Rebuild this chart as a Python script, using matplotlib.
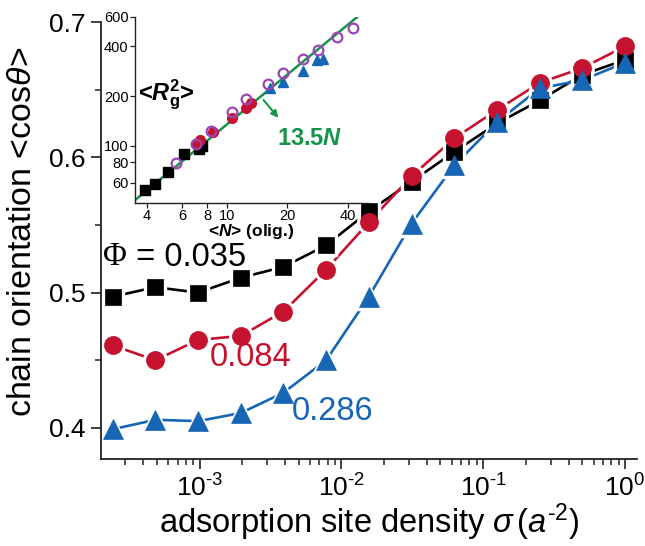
import numpy as np
import matplotlib
matplotlib.use("Agg")
import matplotlib.pyplot as plt
from matplotlib.ticker import (FixedLocator, FixedFormatter, LogLocator, NullFormatter,
                               MultipleLocator, FuncFormatter, FormatStrFormatter)

plt.rcParams['font.family'] = ['Liberation Sans', 'DejaVu Sans']
plt.rcParams['mathtext.fontset'] = 'custom'
plt.rcParams['mathtext.rm'] = 'Liberation Sans'
plt.rcParams['mathtext.it'] = 'Liberation Sans:italic'
plt.rcParams['mathtext.bf'] = 'Liberation Sans:bold'
plt.rcParams['mathtext.bfit'] = 'Liberation Sans:italic:bold'
plt.rcParams['axes.unicode_minus'] = False

# ---- main panel data: orientation vs adsorption site density ----
sigma = 2.0 ** np.arange(-12, 1)
cos_phi_035 = [0.497, 0.504, 0.500, 0.511, 0.519, 0.535, 0.560, 0.582, 0.604,
               0.625, 0.642, 0.661, 0.672]
cos_phi_084 = [0.461, 0.450, 0.465, 0.468, 0.486, 0.517, 0.552, 0.586, 0.614,
               0.635, 0.655, 0.666, 0.682]
cos_phi_286 = [0.399, 0.406, 0.405, 0.411, 0.426, 0.450, 0.497, 0.551, 0.594,
               0.626, 0.651, 0.657, 0.670]
phi_labels = ["0.035", "0.084", "0.286"]

# ---- inset data: <Rg^2> vs <N> ----
n_sq = [3.9, 4.4, 5.07, 6.13, 7.3, 7.5]
rg_sq = [54, 59, 70, 89, 96, 100]
n_ci = [7.0, 7.35, 8.55, 10.55, 12.4, 13.2]
rg_ci = [103, 108, 122, 147, 170, 182]
n_tri = [16.4, 19.1, 24.0, 27.9, 29.9]
rg_tri = [225, 244, 284, 329, 333]
n_open = [5.57, 7.0, 8.32, 10.55, 12.4, 16.05, 18.9, 24.0, 28.4, 35.4, 42.6]
rg_open = [79, 103, 123, 161, 191, 238, 277, 337, 379, 455, 512]
fit_slope = 13.5
inset_xticks = [4, 6, 8, 10, 20, 40]
inset_yticks = [60, 80, 100, 200, 400, 600]

BLACK = '#000000'
RED = '#c4122f'
BLUE = '#1766b5'
PURPLE = '#9b45b2'
GREEN = '#17944a'
SPINE = '#222222'
HYPHEN = '\u2010'

fig = plt.figure(figsize=(6.45, 5.46), dpi=100)
ax = fig.add_axes([0.1566, 0.1593, 0.831, 0.8004])

series = [
    (cos_phi_035, BLACK, 's', 12.0),
    (cos_phi_084, RED, 'o', 13.0),
    (cos_phi_286, BLUE, '^', 15.0),
]
for vals, col, mk, ms in series:
    ax.plot(sigma, vals, color=col, lw=1.9, zorder=2, solid_capstyle='butt')
for vals, col, mk, ms in series:
    ax.plot(sigma, vals, ls='none', marker=mk, ms=ms + 4, mfc='white', mec='white', zorder=3)
for vals, col, mk, ms in series:
    ax.plot(sigma, vals, ls='none', marker=mk, ms=ms, mfc=col, mec=col, mew=0.5, zorder=4)

ax.set_xscale('log')
ax.set_xlim(2.02e-4, 1.215)
ax.set_ylim(0.377, 0.7)
ax.yaxis.set_major_locator(MultipleLocator(0.1))
ax.yaxis.set_minor_locator(MultipleLocator(0.05))
ax.yaxis.set_major_formatter(FormatStrFormatter('%.1f'))
ax.xaxis.set_major_locator(LogLocator(base=10, numticks=10))
ax.xaxis.set_minor_locator(LogLocator(base=10, subs=np.arange(2, 10), numticks=20))
ax.xaxis.set_minor_formatter(NullFormatter())
ax.xaxis.set_major_formatter(FuncFormatter(
    lambda v, pos: r'$10^{\mathrm{%s}}$' % ('%d' % round(np.log10(v))).replace('-', HYPHEN)))

for side in ('top', 'right'):
    ax.spines[side].set_visible(False)
for side in ('left', 'bottom'):
    ax.spines[side].set_linewidth(1.3)
    ax.spines[side].set_color(SPINE)
    ax.spines[side].set_zorder(5)
ax.tick_params(which='major', direction='out', length=7, width=1.2, color=SPINE,
               labelsize=19, pad=4)
ax.tick_params(which='minor', direction='out', length=4, width=1.1, color=SPINE)

ax.set_xlabel(r'adsorption site density $\sigma\,(a^{\mathrm{%s2}})$' % HYPHEN,
              fontsize=23.5, labelpad=0)
ax.set_ylabel(r'chain orientation <cos$\theta$>', fontsize=24.5)
ax.yaxis.set_label_coords(-0.118, 0.52)

# curve labels
t_phi = ax.text(0.004, 0.462, "Φ", transform=ax.transAxes, fontsize=23.5,
                family=['Liberation Serif', 'DejaVu Serif'], va='center', ha='left', color=BLACK)
ax.annotate(" = " + phi_labels[0], xy=(1.0, 0.5), xycoords=t_phi, va='center', ha='left',
            fontsize=23.5, color=BLACK)
ax.text(0.280, 0.233, phi_labels[1], transform=ax.transAxes, fontsize=23.5,
        color=RED, va='center', ha='center')
ax.text(0.431, 0.108, phi_labels[2], transform=ax.transAxes, fontsize=23.5,
        color=BLUE, va='center', ha='center')

# ---- inset ----
ins = fig.add_axes([0.2093, 0.6288, 0.3612, 0.3401])
ins.set_xscale('log')
ins.set_yscale('log')
ins.set_xlim(3.49, 50.3)
ins.set_ylim(45.5, 600)
nfit = np.array([3.0, 60.0])
ins.plot(nfit, fit_slope * nfit, color=GREEN, lw=1.8, zorder=2)
ins.plot(n_sq, rg_sq, ls='none', marker='s', ms=6.5, color=BLACK, zorder=3)
ins.plot(n_ci, rg_ci, ls='none', marker='o', ms=7, color=RED, zorder=3)
ins.plot(n_tri, rg_tri, ls='none', marker='^', ms=7.5, color=BLUE, zorder=3)
ins.plot(n_open, rg_open, ls='none', marker='o', ms=7, mfc='none', mec=PURPLE, mew=1.6, zorder=4)

ins.xaxis.set_major_locator(FixedLocator(inset_xticks))
ins.xaxis.set_major_formatter(FixedFormatter([str(v) for v in inset_xticks]))
ins.xaxis.set_minor_locator(FixedLocator([]))
ins.yaxis.set_major_locator(FixedLocator(inset_yticks))
ins.yaxis.set_major_formatter(FixedFormatter([str(v) for v in inset_yticks]))
ins.yaxis.set_minor_locator(FixedLocator([]))
for side in ('top', 'right'):
    ins.spines[side].set_visible(False)
for side in ('left', 'bottom'):
    ins.spines[side].set_linewidth(1.0)
    ins.spines[side].set_color(SPINE)
ins.tick_params(which='major', direction='out', length=3.5, width=0.9, color=SPINE,
                labelsize=10.5, pad=1.0)
ins.patch.set_alpha(0)

ins.set_xlabel(r'<$\mathbfit{N}$> (olig.)', fontsize=12.5, fontweight='bold', labelpad=-1)
ins.text(0.013, 0.58, r'<$\mathbfit{R}_{\mathbf{g}}^{\mathbf{2}}$>', transform=ins.transAxes,
         fontsize=17, fontweight='bold', va='center', ha='left')
ins.annotate('', xy=(18.4, 143.5), xytext=(14.9, 195),
             arrowprops=dict(arrowstyle='-|>', color=GREEN, lw=1.5, mutation_scale=10))
ins.text(0.751, 0.348, r'13.5$\mathbfit{N}$', transform=ins.transAxes, fontsize=17,
         fontweight='bold', color=GREEN, va='center', ha='center')

fig.savefig('out.png', dpi=100)
